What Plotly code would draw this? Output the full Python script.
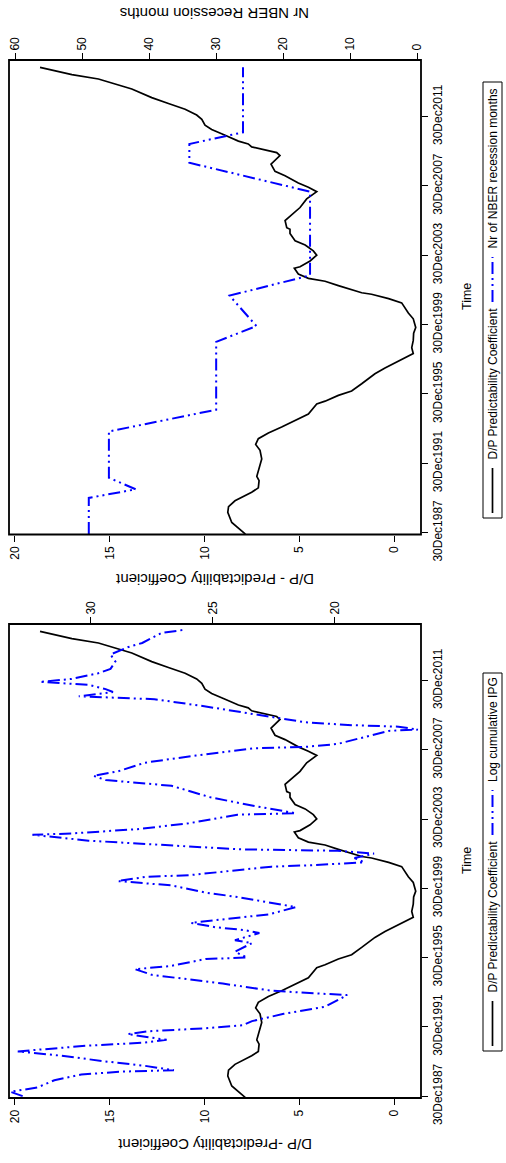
import plotly.graph_objects as go

# D/P predictability coefficient (rolling estimate), shared by both panels
dp_dates = ["1987-12", "1988-08", "1989-03", "1989-07", "1989-11", "1990-05", "1990-08",
            "1991-01", "1991-04", "1992-04", "1992-10", "1993-02", "1993-06", "1993-10",
            "1994-02", "1994-05", "1994-08", "1994-11", "1995-06", "1995-08", "1995-12",
            "1996-03", "1996-08", "1997-03", "1997-07", "1997-10", "1998-01", "1998-05",
            "1998-09", "1999-02", "1999-07", "1999-11", "2000-05", "2000-09", "2001-04",
            "2001-07", "2001-10", "2001-11", "2002-04", "2002-07", "2002-09", "2002-12",
            "2003-04", "2003-05", "2003-09", "2004-01", "2004-04", "2004-08", "2004-11",
            "2005-04", "2005-07", "2005-08", "2006-01", "2006-03", "2006-07", "2006-10",
            "2007-04", "2007-07", "2007-09", "2007-12", "2008-03", "2008-08", "2008-11",
            "2009-04", "2009-07", "2009-10", "2009-12", "2010-02", "2010-04", "2010-06",
            "2010-08", "2010-12", "2011-04", "2011-07", "2011-11", "2012-02", "2012-06",
            "2012-10", "2013-02", "2013-08", "2014-03", "2014-06", "2014-11"]
dp_coef = [7.85, 8.57, 8.78, 8.74, 8.40, 7.52, 7.17,
           7.13, 7.25, 6.99, 7.08, 7.31, 7.17, 6.64,
           5.94, 5.50, 5.06, 4.53, 4.09, 3.65, 2.95,
           2.25, 1.72, 1.02, 0.49, 0.05, -0.47, -1.00,
           -0.92, -1.00, -1.02, -1.13, -1.00, -0.74, -0.39,
           0.30, 1.20, 1.72, 2.95, 3.65, 4.53, 5.06,
           5.27, 4.97, 4.44, 4.09, 4.27, 4.70, 5.23,
           5.50, 5.50, 5.67, 5.76, 5.59, 5.23, 4.97,
           4.62, 4.27, 4.09, 4.53, 5.06, 5.76, 6.29,
           6.50, 6.29, 6.03, 6.20, 6.82, 7.52, 7.70,
           8.22, 8.92, 9.63, 9.98, 10.15, 10.42, 11.03,
           11.91, 12.79, 13.84, 15.60, 17.00, 18.68]

# Number of NBER recession months in the rolling window
nber_dates = ["1987-12", "1990-01", "1990-07", "1991-03", "1993-11", "1995-02", "1999-01",
              "1999-12", "2001-09", "2002-11", "2007-09", "2009-05", "2010-06", "2011-02",
              "2014-11"]
nber_months = [49, 49, 42, 46, 46, 30, 30,
               24, 28, 16, 16, 34, 34, 26,
               26]

# Log cumulative industrial production growth
ipg_dates = ["1988-01", "1988-04", "1988-07", "1988-12", "1989-04", "1989-06", "1989-07",
             "1989-10", "1990-01", "1990-03", "1990-05", "1990-08", "1990-12", "1991-02",
             "1991-04", "1991-08", "1991-10", "1991-12", "1992-02", "1992-05", "1992-10",
             "1993-03", "1993-11", "1993-12", "1994-02", "1994-07", "1994-11", "1995-01",
             "1995-05", "1995-07", "1995-12", "1996-01", "1996-05", "1996-11", "1997-01",
             "1997-06", "1997-08", "1997-10", "1998-01", "1998-04", "1998-07", "1998-12",
             "1999-03", "1999-05", "1999-07", "1999-10", "2000-03", "2000-06", "2000-09",
             "2000-10", "2001-01", "2001-04", "2001-05", "2001-07", "2001-10", "2002-01",
             "2002-03", "2002-04", "2002-06", "2002-08", "2002-10", "2003-02", "2003-03",
             "2003-06", "2003-10", "2004-04", "2004-05", "2004-10", "2005-04", "2005-12",
             "2006-02", "2006-04", "2006-07", "2006-10", "2007-04", "2007-09", "2008-02",
             "2008-03", "2008-05", "2008-09", "2009-02", "2009-03", "2009-05", "2009-06",
             "2009-08", "2010-01", "2010-07", "2010-12", "2011-01", "2011-02", "2011-05",
             "2011-07", "2011-10", "2011-12", "2012-02", "2012-06", "2012-09", "2013-02",
             "2013-07", "2013-12", "2014-03", "2014-10", "2014-12"]
ipg_log = [32.8, 33.3, 32.2, 31.5, 30.4, 28.7, 26.6,
           27.8, 29.4, 30.3, 31.2, 33.0, 30.1, 27.8,
           26.9, 28.5, 27.6, 25.3, 23.8, 23.4, 22.1,
           20.4, 19.5, 20.6, 22.6, 24.6, 26.7, 27.5,
           28.2, 26.8, 25.3, 23.6, 24.1, 23.4, 24.1,
           23.1, 23.7, 24.9, 25.9, 24.2, 22.7, 21.6,
           22.6, 23.2, 24.0, 25.3, 26.7, 28.9, 27.7,
           26.0, 24.2, 22.6, 21.0, 18.8, 19.2, 18.4,
           19.9, 23.9, 26.0, 28.1, 30.1, 32.4, 30.8,
           28.1, 26.0, 24.0, 21.6, 23.3, 25.1, 26.7,
           28.1, 29.4, 29.9, 28.9, 27.8, 25.7, 23.3,
           21.2, 19.9, 19.0, 17.8, 16.6, 17.4, 19.3,
           21.2, 23.1, 25.3, 27.4, 29.4, 30.5, 29.1,
           29.4, 30.1, 32.1, 30.8, 29.7, 29.2, 29.0,
           29.2, 28.5, 27.9, 27.1, 26.2]

tick_dates = ["1987-12-30", "1991-12-30", "1995-12-30", "1999-12-30",
              "2003-12-30", "2007-12-30", "2011-12-30"]
tick_text = ["30Dec1987", "30Dec1991", "30Dec1995", "30Dec1999",
             "30Dec2003", "30Dec2007", "30Dec2011"]
dp_ticks = [0, 5, 10, 15, 20]
nber_ticks = [0, 10, 20, 30, 40, 50, 60]
ipg_ticks = [20, 25, 30]

W, H = 506, 1163
ML, MR, MT, MB = 9, 85, 60, 65
PW = W - ML - MR
PH = H - MT - MB
FONT = "Liberation Sans, Arial, Helvetica, sans-serif"
BLUE = "#0000ff"
DASHDOT = "12px,4px,2px,4px,2px,4px"


def px(x):
    return (x - ML) / PW


def py(y):
    return (H - MB - y) / PH


upper_dom = [py(534.5), 1.0]
lower_dom = [0.0, py(624)]
time_range = ["1987-11-22", "2015-04-05"]

fig = go.Figure()
fig.add_trace(go.Scatter(x=dp_coef, y=dp_dates, xaxis="x", yaxis="y", mode="lines",
                         line=dict(color="black", width=1.7)))
fig.add_trace(go.Scatter(x=nber_months, y=nber_dates, xaxis="x2", yaxis="y", mode="lines",
                         line=dict(color=BLUE, width=2, dash=DASHDOT)))
fig.add_trace(go.Scatter(x=dp_coef, y=dp_dates, xaxis="x3", yaxis="y2", mode="lines",
                         line=dict(color="black", width=1.7)))
fig.add_trace(go.Scatter(x=ipg_log, y=ipg_dates, xaxis="x4", yaxis="y2", mode="lines",
                         line=dict(color=BLUE, width=2, dash=DASHDOT)))

tickfont = dict(family=FONT, size=12, color="black")
common = dict(showgrid=False, zeroline=False, showline=False, ticks="outside", ticklen=6,
              tickwidth=1, tickcolor="black", tickangle=-90, tickfont=tickfont)

fig.update_layout(
    width=W, height=H, autosize=False,
    margin=dict(l=ML, r=MR, t=MT, b=MB, pad=0),
    paper_bgcolor="white", plot_bgcolor="white", showlegend=False,
    xaxis=dict(domain=[0, 1], anchor="y", range=[20.316, -1.408], tickvals=dp_ticks, **common),
    xaxis2=dict(overlaying="x", side="top", anchor="y", range=[60.9, -0.55],
                tickvals=nber_ticks, **common),
    yaxis=dict(domain=upper_dom, anchor="x", side="right", type="date", range=time_range,
               tickvals=tick_dates, ticktext=tick_text, **common),
    xaxis3=dict(domain=[0, 1], anchor="y2", range=[20.316, -1.408], tickvals=dp_ticks, **common),
    xaxis4=dict(overlaying="x3", side="top", anchor="y2", range=[33.36, 16.475],
                tickvals=ipg_ticks, **common),
    yaxis2=dict(domain=lower_dom, anchor="x3", side="right", type="date", range=time_range,
                tickvals=tick_dates, ticktext=tick_text, **common),
)

shapes = []
annotations = []

# plot region frames
for dom in (upper_dom, lower_dom):
    shapes.append(dict(type="rect", xref="paper", yref="paper", x0=0, x1=1, y0=dom[0], y1=dom[1],
                       line=dict(color="black", width=1.8), fillcolor="rgba(0,0,0,0)"))


def text(s, x, y, angle, size, xanchor="center", yanchor="middle"):
    annotations.append(dict(text=s, x=px(x), y=py(y), xref="paper", yref="paper",
                            showarrow=False, textangle=angle, xanchor=xanchor,
                            yanchor=yanchor, font=dict(family=FONT, size=size, color="black")))


# axis titles
text("Nr NBER Recession months", 215, 14, 180, 15)
text("D/P - Predictability Coefficient", 215, 580, 180, 15)
text("D/P -Predictability Coefficient", 215, 1145, 180, 15)
text("Time", 467, 297, -90, 12.5)
text("Time", 467, 861, -90, 12.5)


def legend(top, bottom, label2):
    lx = 492.5
    shapes.append(dict(type="rect", xref="paper", yref="paper", x0=px(483), x1=px(502),
                       y0=py(bottom), y1=py(top), line=dict(color="black", width=1),
                       fillcolor="white"))
    y = bottom - 5
    shapes.append(dict(type="line", xref="paper", yref="paper", x0=px(lx), x1=px(lx),
                       y0=py(y), y1=py(y - 45), line=dict(color="black", width=1.7)))
    y -= 51
    text("D/P Predictability Coefficient", lx, y, -90, 12, yanchor="bottom")
    y -= 160
    shapes.append(dict(type="line", xref="paper", yref="paper", x0=px(lx), x1=px(lx),
                       y0=py(y), y1=py(y - 45), line=dict(color=BLUE, width=2, dash=DASHDOT)))
    y -= 51
    text(label2, lx, y, -90, 12, yanchor="bottom")


legend(82, 518, "Nr of NBER recession months")
legend(673, 1051, "Log cumulative IPG")

fig.update_layout(shapes=shapes, annotations=annotations)
fig.write_html("out.html")
